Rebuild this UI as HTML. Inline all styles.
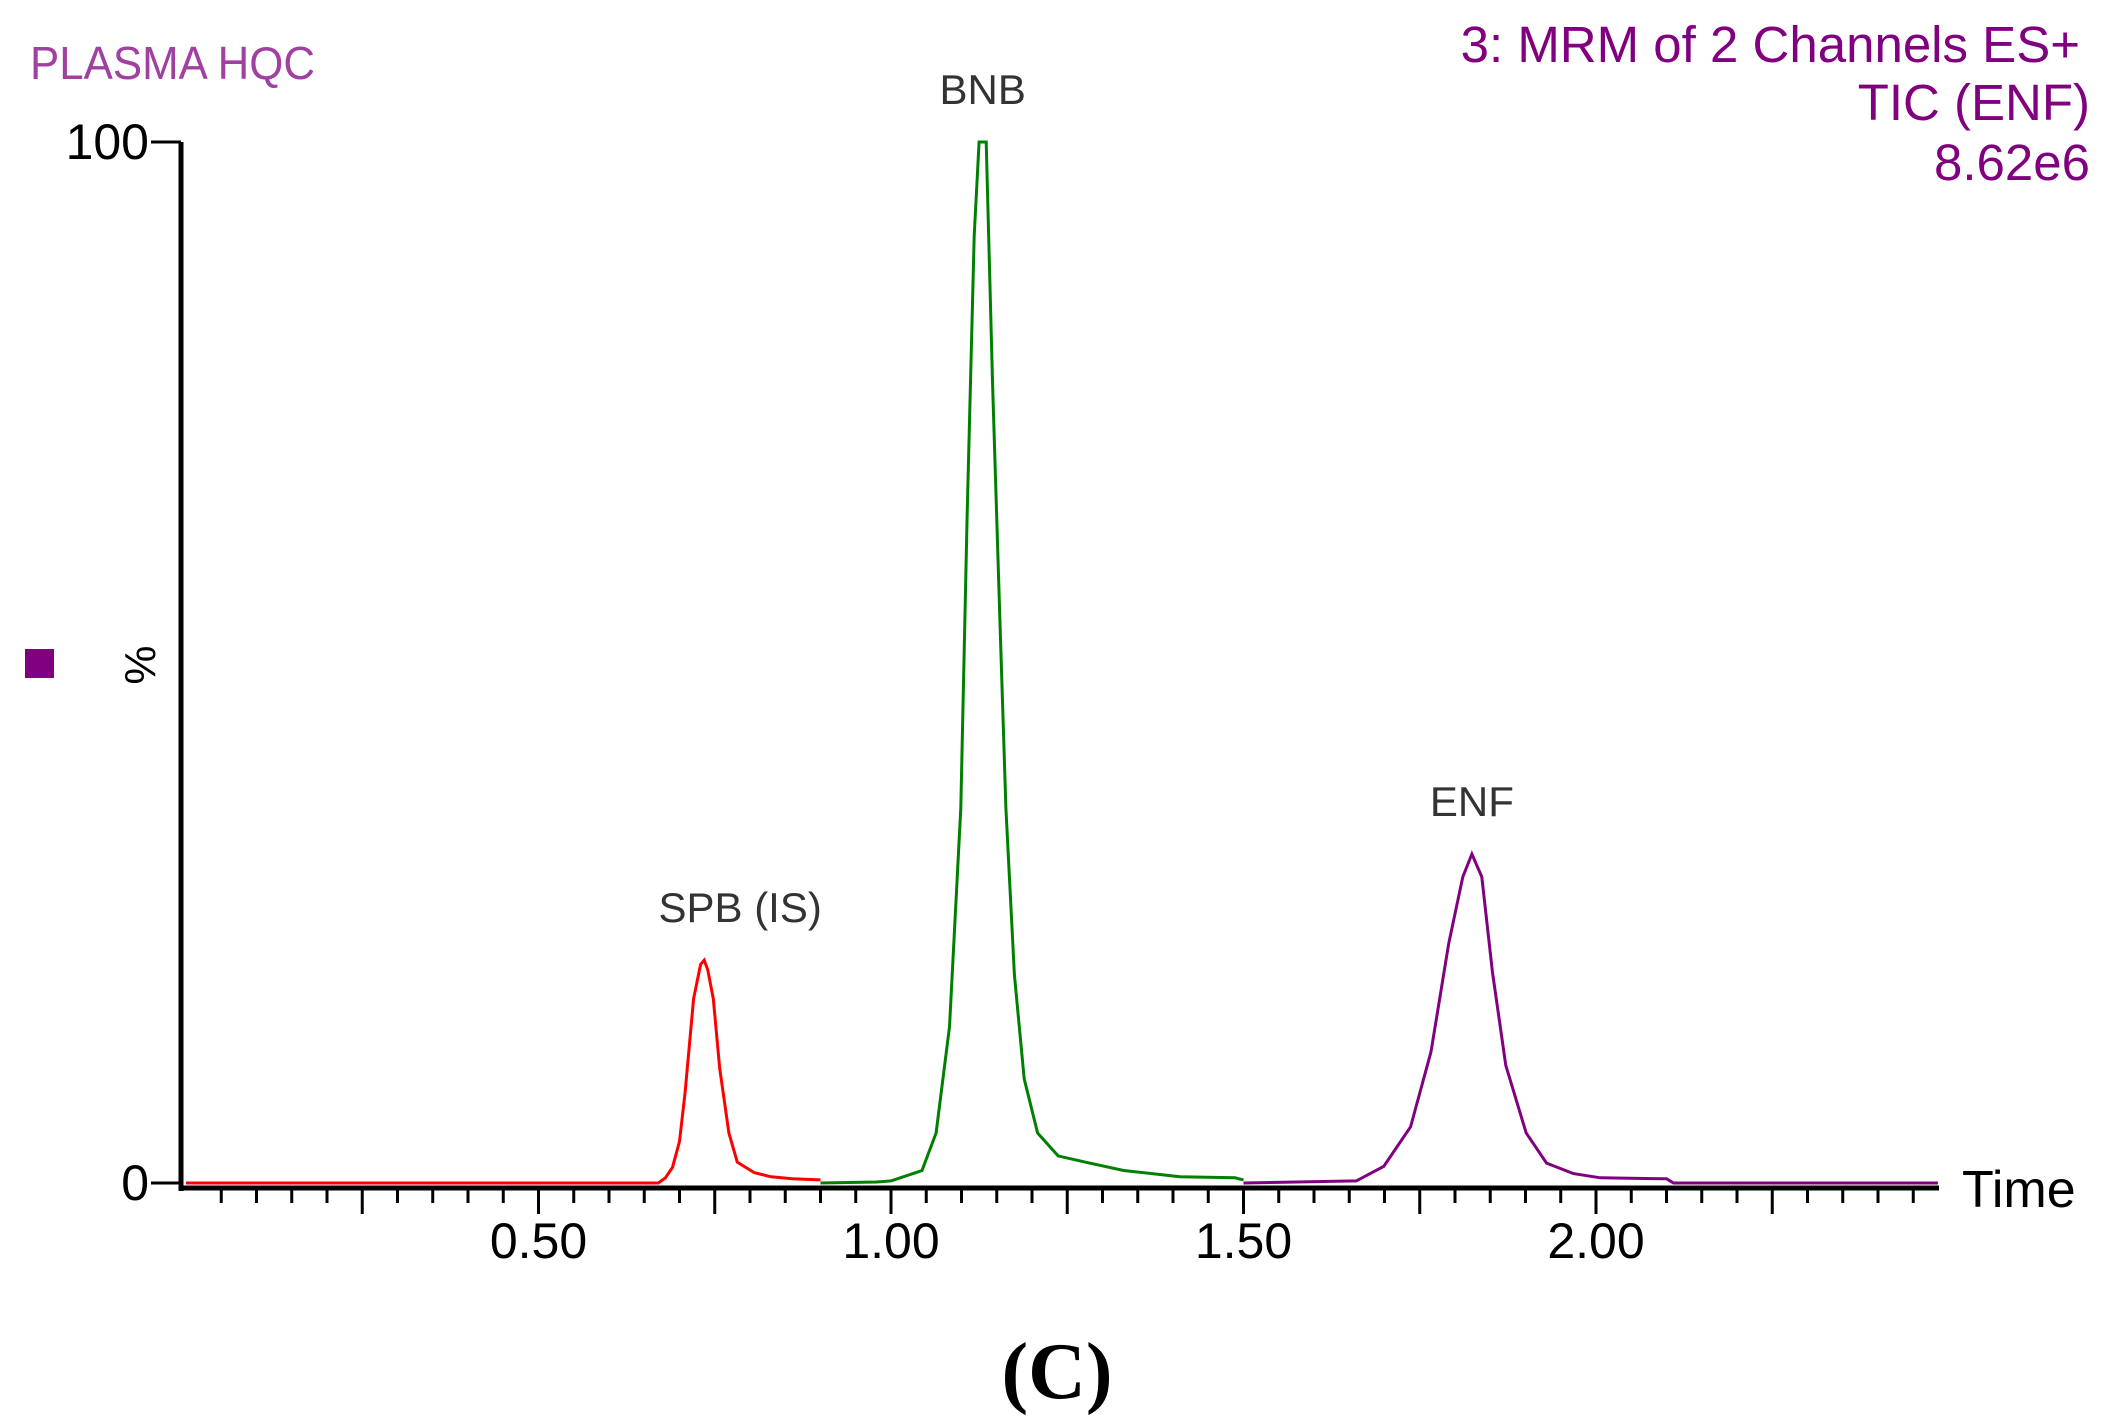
<!DOCTYPE html>
<html><head><meta charset="utf-8"><style>
html,body{margin:0;padding:0;background:#fff;}
svg{display:block;}
text{font-family:"Liberation Sans",sans-serif;}
text.serif{font-family:"Liberation Serif",serif;}
</style></head><body>
<svg id="chart" width="2117" height="1427" viewBox="0 0 2117 1427" xmlns="http://www.w3.org/2000/svg">
<rect width="2117" height="1427" fill="#fff"/>
<text x="30" y="79" font-size="46" fill="#a040a0" textLength="285" lengthAdjust="spacingAndGlyphs">PLASMA HQC</text>
<g fill="#800080" font-size="51" text-anchor="end">
<text x="2080" y="62">3: MRM of 2 Channels ES+</text>
<text x="2090" y="120">TIC (ENF)</text>
<text x="2090" y="180">8.62e6</text>
</g>
<rect x="25" y="649" width="29" height="29" fill="#800080"/>
<text x="0" y="0" font-size="44" fill="#000" text-anchor="middle" transform="translate(155,665) rotate(-90)">%</text>
<g id="axes"></g>
<g id="traces"></g>
<g id="labels" font-size="42" fill="#333" text-anchor="middle"></g>
<text x="1962" y="1207" font-size="52" fill="#000">Time</text>
<text class="serif" x="1057" y="1398" font-size="80" font-weight="bold" text-anchor="middle" fill="#000">(C)</text>
</svg>
<script>
const xTickLabels = ["0.50","1.00","1.50","2.00"];
const xTickValues = [0.5,1.0,1.5,2.0];
const yTickLabels = ["0","100"];
const yTickValues = [0,100];
const spbTimes = [0,0.67,0.68,0.69,0.70,0.708,0.72,0.73,0.735,0.74,0.748,0.757,0.77,0.782,0.806,0.83,0.86,0.90];
const spbValues = [0,0,0.5,1.5,4,8.7,17.7,21,21.4,20.5,17.7,11,4.8,2,1,0.6,0.4,0.3];
const bnbTimes = [0.90,0.98,1.0,1.044,1.064,1.083,1.099,1.108,1.118,1.125,1.135,1.144,1.154,1.163,1.175,1.189,1.208,1.237,1.276,1.33,1.41,1.488,1.50];
const bnbValues = [0,0.1,0.2,1.2,4.8,15,36,64,91,100,100,77,55,36,20,10,4.8,2.6,2,1.2,0.6,0.5,0.3];
const enfTimes = [1.50,1.66,1.699,1.737,1.766,1.791,1.811,1.824,1.838,1.853,1.872,1.901,1.93,1.968,2.006,2.10,2.11,2.485];
const enfValues = [0,0.2,1.6,5.4,12.6,23,29.4,31.6,29.4,20.3,11.3,4.8,1.9,0.9,0.5,0.4,0,0];
const peakNames = ["SPB (IS)","BNB","ENF"];
const peakTimes = [0.735,1.13,1.824];
const peakHeights = [21.4,100,31.6];

const NS="http://www.w3.org/2000/svg";
const X0=186, XS=705, Y0=1183, Y100=142;
const xs=t=>X0+t*XS;
const ys=v=>Y0-(Y0-Y100)*v/100;
function mk(tag,attrs,parent){const e=document.createElementNS(NS,tag);for(const k in attrs)e.setAttribute(k,attrs[k]);parent.appendChild(e);return e;}
const axes=document.getElementById('axes');
let l=mk('line',{x1:181,y1:142,x2:181,y2:1191,stroke:'#000','stroke-width':5},axes);


l=mk('line',{x1:179,y1:1188,x2:1939,y2:1188,stroke:'#000','stroke-width':5},axes);


for(let i=1;i*0.05<=2.48;i++){
  const t=i*0.05, long=(i%5===0);
  const tk=mk('line',{x1:xs(t),y1:1190,x2:xs(t),y2:long?1214:1203,stroke:'#000','stroke-width':3},axes);
  
  
}
xTickValues.forEach((v,i)=>{
  const tx=mk('text',{x:xs(v),y:1258,'font-size':50,'text-anchor':'middle',fill:'#000'},axes);
  tx.textContent=xTickLabels[i];
  
  
});
yTickValues.forEach((v,i)=>{
  const y=(v===0)?1183:ys(v);
  const tk=mk('line',{x1:151,y1:y,x2:181,y2:y,stroke:'#000','stroke-width':3},axes);
  
  
  const tx=mk('text',{x:149,y:y+17,'font-size':50,'text-anchor':'end',fill:'#000'},axes);
  tx.textContent=yTickLabels[i];
  
  
});
const traces=document.getElementById('traces');
function drawTrace(ts,vs,color,name){
  const pts=ts.map((t,i)=>xs(t).toFixed(1)+','+ys(vs[i]).toFixed(1)).join(' ');
  const p=mk('polyline',{points:pts,fill:'none',stroke:color,'stroke-width':3,'stroke-linejoin':'miter'},traces);
  
  
}
drawTrace(spbTimes,spbValues,'#ff0000','spb-trace');
drawTrace(bnbTimes,bnbValues,'#008000','bnb-trace');
drawTrace(enfTimes,enfValues,'#800080','enf-trace');
const labels=document.getElementById('labels');
peakNames.forEach((n,i)=>{
  const tx=mk('text',{x:xs(peakTimes[i])+(i===0?36:0),y:ys(peakHeights[i])-38},labels);
  tx.textContent=n;
  
  
});
</script>
</body></html>
